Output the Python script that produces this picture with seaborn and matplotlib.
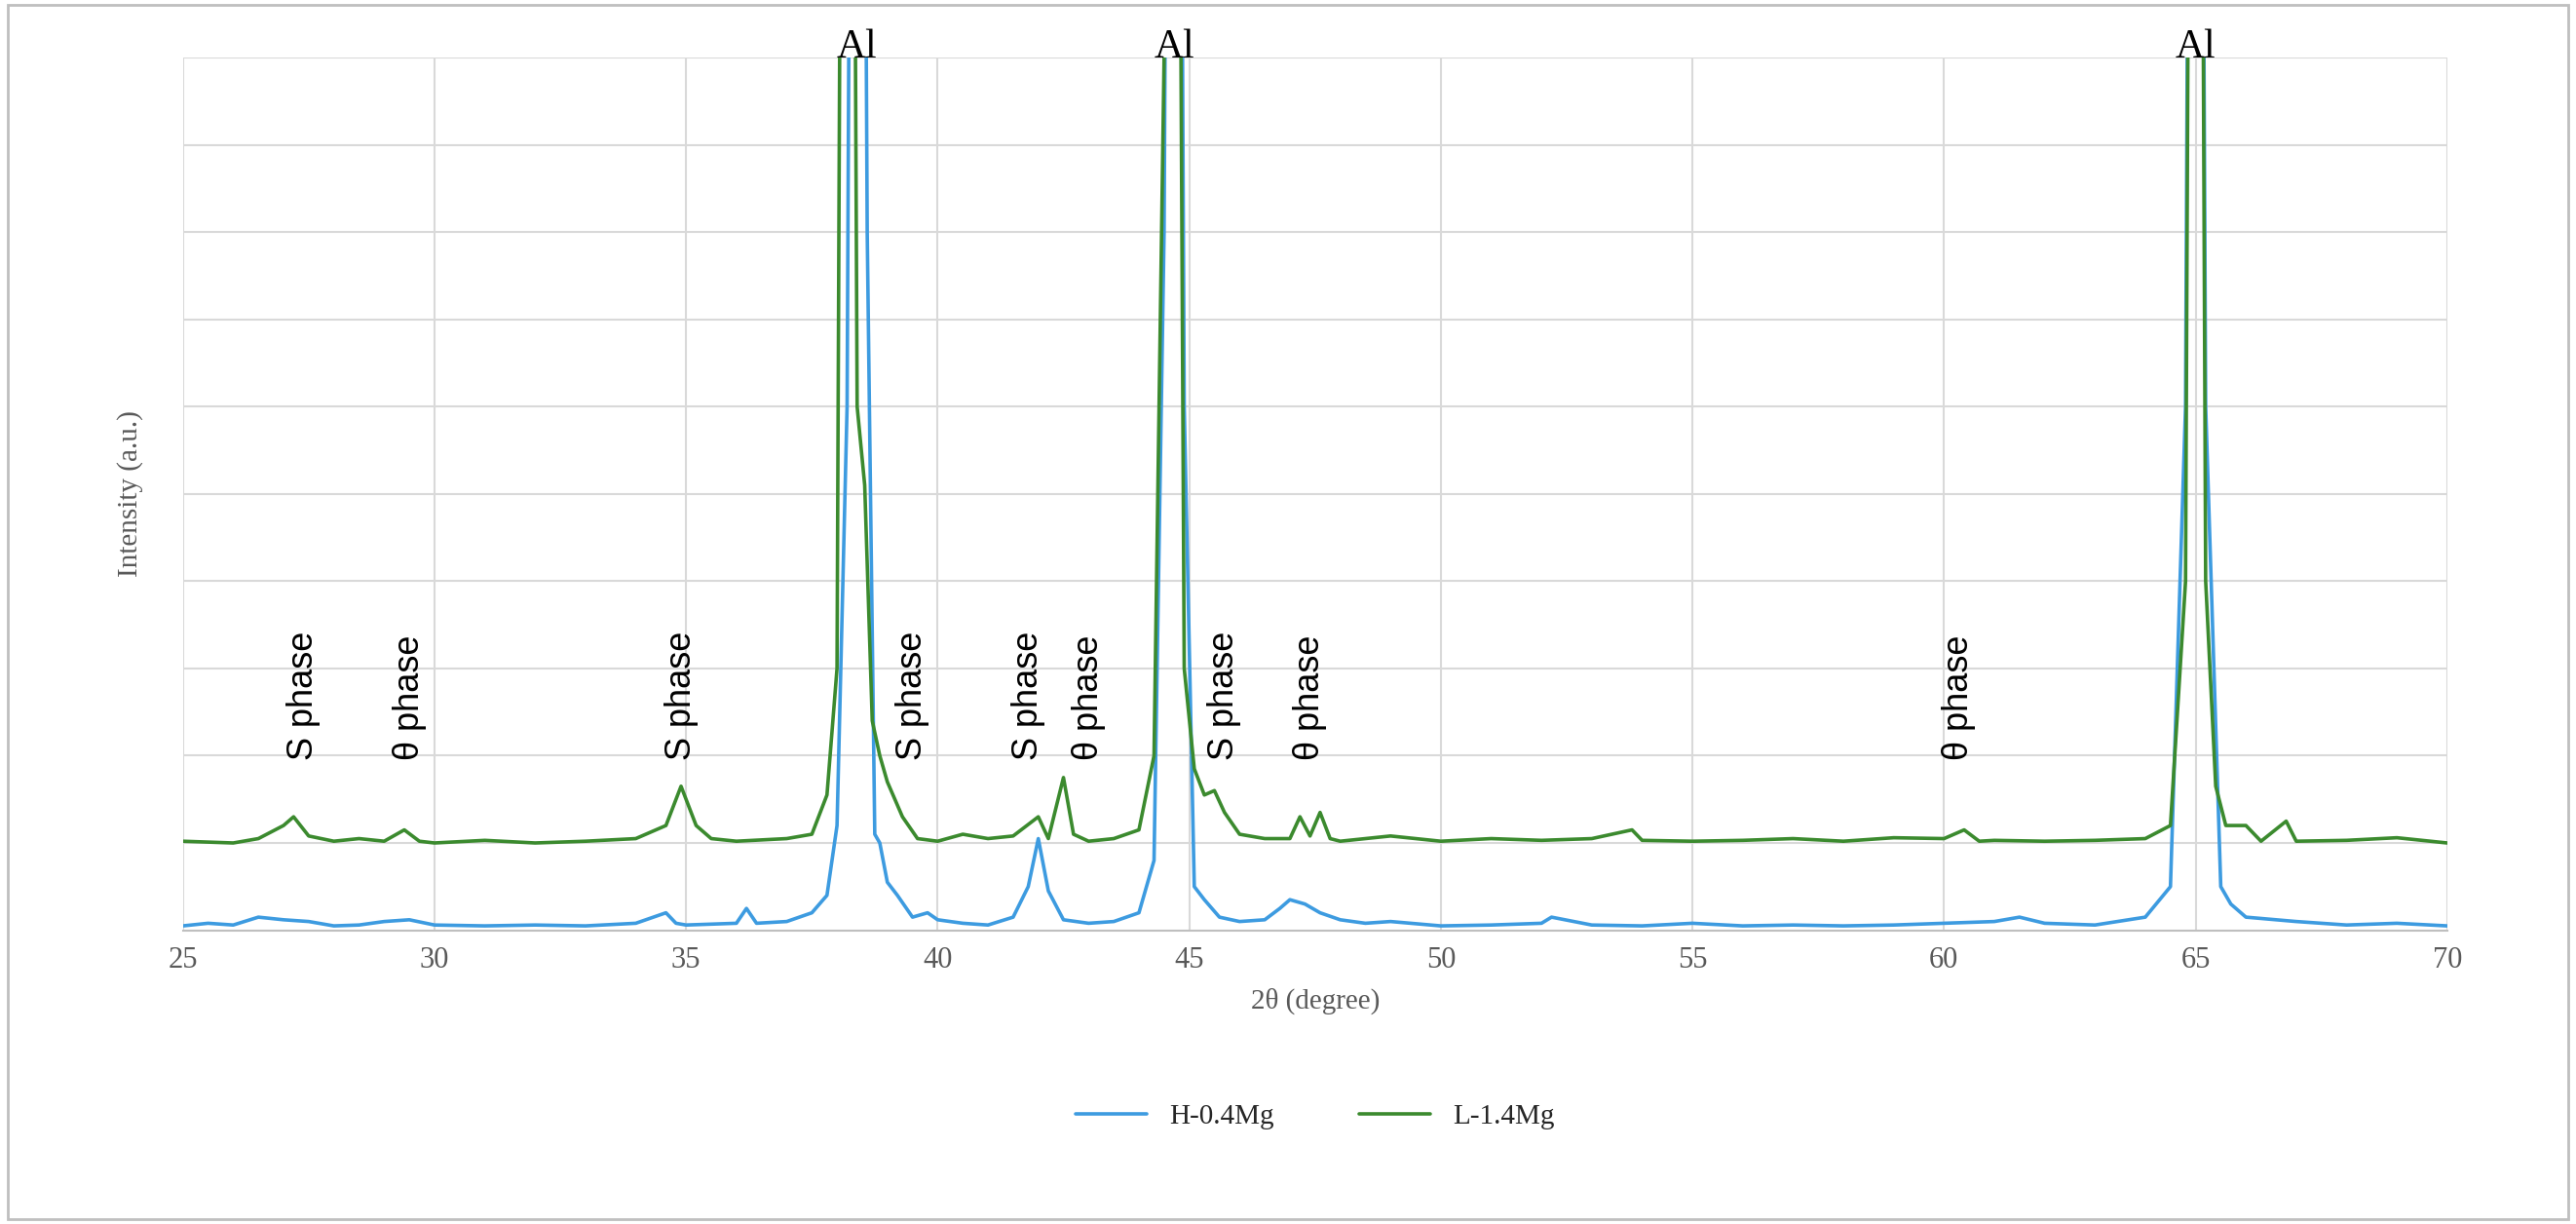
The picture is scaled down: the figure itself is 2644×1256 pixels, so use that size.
import matplotlib
matplotlib.use("Agg")
import matplotlib.pyplot as plt
import seaborn as sns
import pandas as pd

# H-0.4Mg pattern
h_x = [25, 25.5, 26, 26.5, 27, 27.5, 28, 28.5, 29, 29.5, 30, 31, 32, 33, 34, 34.6, 34.8, 35, 36, 36.2,
       36.4, 37, 37.5, 37.8, 38.0, 38.2, 38.4, 38.6, 38.75, 38.85, 39.0, 39.2, 39.5, 39.8, 40, 40.5, 41,
       41.5, 41.8, 42.0, 42.2, 42.5, 43, 43.5, 44, 44.3, 44.5, 44.7, 44.9, 45.1, 45.3, 45.6, 46, 46.5,
       46.8, 47.0, 47.3, 47.6, 48, 48.5, 49, 50, 51, 52, 52.2, 53, 54, 55, 56, 57, 58, 59, 60, 61, 61.5,
       62, 63, 64, 64.5, 64.8, 65.0, 65.2, 65.5, 65.7, 66, 67, 68, 69, 70]
h_y = [0.05, 0.08, 0.06, 0.15, 0.12, 0.1, 0.05, 0.06, 0.1, 0.12, 0.06, 0.05, 0.06, 0.05, 0.08, 0.2, 0.08,
       0.06, 0.08, 0.25, 0.08, 0.1, 0.2, 0.4, 1.2, 6, 30, 8, 1.1, 1.0, 0.55, 0.4, 0.15, 0.2, 0.12, 0.08,
       0.06, 0.15, 0.5, 1.05, 0.45, 0.12, 0.08, 0.1, 0.2, 0.8, 8, 30, 6, 0.5, 0.35, 0.15, 0.1, 0.12, 0.25,
       0.35, 0.3, 0.2, 0.12, 0.08, 0.1, 0.05, 0.06, 0.08, 0.15, 0.06, 0.05, 0.08, 0.05, 0.06, 0.05, 0.06,
       0.08, 0.1, 0.15, 0.08, 0.06, 0.15, 0.5, 6, 30, 6, 0.5, 0.3, 0.15, 0.1, 0.06, 0.08, 0.05]

# L-1.4Mg pattern
l_x = [25, 26, 26.5, 27, 27.2, 27.5, 28, 28.5, 29, 29.4, 29.7, 30, 31, 32, 33, 34, 34.6, 34.9, 35.2, 35.5,
       36, 37, 37.5, 37.8, 38.0, 38.2, 38.4, 38.55, 38.7, 38.85, 39.0, 39.3, 39.6, 40, 40.5, 41, 41.5,
       42.0, 42.2, 42.5, 42.7, 43, 43.5, 44, 44.3, 44.5, 44.65, 44.9, 45.1, 45.3, 45.5, 45.7, 46, 46.5,
       47, 47.2, 47.4, 47.6, 47.8, 48, 49, 50, 51, 52, 53, 53.8, 54, 55, 56, 57, 58, 59, 60, 60.4, 60.7,
       61, 62, 63, 64, 64.5, 64.8, 65.0, 65.2, 65.4, 65.6, 66, 66.3, 66.8, 67, 68, 69, 70]
l_y = [1.02, 1.0, 1.05, 1.2, 1.3, 1.08, 1.02, 1.05, 1.02, 1.15, 1.02, 1.0, 1.03, 1.0, 1.02, 1.05, 1.2, 1.65,
       1.2, 1.05, 1.02, 1.05, 1.1, 1.55, 3, 30, 6, 5.1, 2.4, 2.0, 1.7, 1.3, 1.05, 1.02, 1.1, 1.05, 1.08,
       1.3, 1.05, 1.75, 1.1, 1.02, 1.05, 1.15, 2, 10, 30, 3, 1.85, 1.55, 1.6, 1.35, 1.1, 1.05, 1.05, 1.3,
       1.08, 1.35, 1.05, 1.02, 1.08, 1.02, 1.05, 1.03, 1.05, 1.15, 1.03, 1.02, 1.03, 1.05, 1.02, 1.06,
       1.05, 1.15, 1.02, 1.03, 1.02, 1.03, 1.05, 1.2, 4, 30, 4, 1.65, 1.2, 1.2, 1.02, 1.25, 1.02, 1.03,
       1.06, 1.0]

phase_labels = ["S phase", "θ phase", "S phase", "S phase", "S phase", "θ phase", "S phase", "θ phase", "θ phase"]
phase_x = [27.4, 29.5, 34.9, 39.5, 41.8, 43.0, 45.7, 47.4, 60.3]
al_x = [38.4, 44.7, 65.0]

sns.set_theme(style="white")
plt.rcParams['font.family'] = ['Liberation Serif', 'DejaVu Serif']

fig = plt.figure(figsize=(26.44, 12.56), dpi=100)
ax = fig.add_axes([0.071, 0.24, 0.879, 0.713])

df = pd.concat([pd.DataFrame({"x": h_x, "y": h_y, "s": "H-0.4Mg"}),
                pd.DataFrame({"x": l_x, "y": l_y, "s": "L-1.4Mg"})])
sns.lineplot(data=df, x="x", y="y", hue="s", palette=["#3d9be0", "#3b8a2e"], linewidth=2.6,
             ax=ax, sort=False, estimator=None)

ax.set_xlim(25, 70)
ax.set_ylim(0, 10)
ax.set_xticks(range(25, 71, 5))
ax.set_yticks(range(0, 11))
ax.set_yticklabels([])
ax.grid(True, color="#d9d9d9", linewidth=1.5)
for s in ["top", "right", "left"]:
    ax.spines[s].set_visible(False)
ax.spines["bottom"].set_color("#bfbfbf")
ax.spines["bottom"].set_linewidth(1.5)
ax.tick_params(axis="x", labelsize=22, colors="#595959", length=0, pad=12)
ax.set_xlabel("2θ (degree)", fontsize=21, color="#595959", labelpad=10)
ax.set_ylabel("Intensity (a.u.)", fontsize=21, color="#595959", labelpad=20)

for lab, x in zip(phase_labels, phase_x):
    ax.text(x, 1.95, lab, rotation=90, ha="center", va="bottom", fontsize=26, color="black",
            family=["Liberation Sans", "DejaVu Sans"])
for x in al_x:
    ax.text(x, 9.9, "Al", ha="center", va="bottom", fontsize=30, color="black")

ax.legend(loc="upper center", bbox_to_anchor=(0.5, -0.17), ncol=2, frameon=False,
          fontsize=21, handlelength=2.5, columnspacing=3)

fig.patches.append(plt.Rectangle((0.003, 0.004), 0.994, 0.992, transform=fig.transFigure,
                                 fill=False, edgecolor="#bfbfbf", linewidth=2))
fig.savefig("out.png", dpi=100)
